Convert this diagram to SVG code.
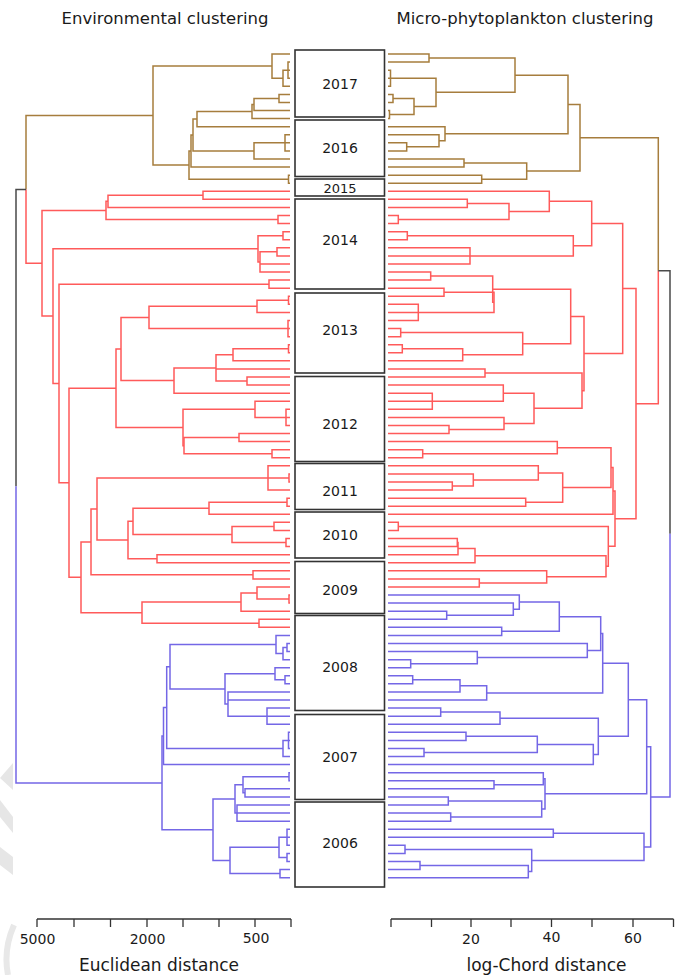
<svg xmlns="http://www.w3.org/2000/svg" width="680" height="975" viewBox="0 0 680 975">
<style>
text{font-family:"DejaVu Sans","Liberation Sans",sans-serif;fill:#1a1a1a}
.t{font-size:16.5px;text-anchor:middle}
.yr{font-size:14px;text-anchor:middle}
.ax{font-size:14px;text-anchor:middle}
.box{fill:#fff;stroke:#333;stroke-width:1.6}
#connectors path{fill:none;stroke-width:1.5;vector-effect:non-scaling-stroke}
.br path{stroke:#a67d3d}
.rd path{stroke:#ff5a5a}
.bl path{stroke:#7467e6}
.bk path{stroke:#4a4a4a}
.axis{fill:none;stroke:#333;stroke-width:1.3}
.wm{fill:#e6e6e6}
</style>
<g id="watermark">
<polygon class="wm" points="0,778 13,763 13,790"/>
<polygon class="wm" points="0,800 13,817 13,833 0,817"/>
<polygon class="wm" points="0,847 13,857 13,875 0,865"/>
<path d="M14,925 Q3,950 8,975" fill="none" stroke="#e8e8e8" stroke-width="6"/>
</g>
<text class="t" x="165" y="24">Environmental clustering</text>
<text class="t" x="525" y="24">Micro-phytoplankton clustering</text>
<g id="connectors" transform="translate(0,54) scale(1,8.075)">
<g class="br">
<path d="M290,1H288V3H290M288,2H290"/>
<path d="M288,2H283V4H290"/>
<path d="M290,0H272V3H283"/>
<path d="M290,5H279V6H290"/>
<path d="M279,5.5H254V7H290"/>
<path d="M254,6.25H252V8H290"/>
<path d="M252,7.125H197V9H290"/>
<path d="M290,10H285V12H290M285,11H290"/>
<path d="M285,11H254V13H290"/>
<path d="M197,8.0625H193V12H254"/>
<path d="M193,10.03H191V14H290"/>
<path d="M290,15H288.5V16H290"/>
<path d="M191,12.02H189V15.5H288.5"/>
<path d="M272,1.5H153V13.76H189"/>
<path d="M153,7.63H26V16.775"/>
<path d="M388,0H429V1H388"/>
<path d="M388,2H390.5V4H388M390.5,3H388"/>
<path d="M388,5H393V6H388"/>
<path d="M388,7H389.5V8H388"/>
<path d="M393,5.5H414V7.5H389.5"/>
<path d="M390.5,3H436V6.5H414"/>
<path d="M429,0.5H515V4.75H436"/>
<path d="M388,11H406.7V12H388"/>
<path d="M388,10H439V11.5H406.7"/>
<path d="M388,9H445V10.75H439"/>
<path d="M515,2.625H568V9.875H445"/>
<path d="M388,13H464V14H388"/>
<path d="M388,15H481.7V16H388"/>
<path d="M464,13.5H526.7V15.5H481.7"/>
<path d="M568,6.25H580V14.5H526.7"/>
<path d="M580,10.375H658.3V26.84"/>
</g>
<g class="rd">
<path d="M290,17H203V18H290"/>
<path d="M203,17.5H108V19H290"/>
<path d="M290,20H278V21H290"/>
<path d="M108,18.25H106V20.5H278"/>
<path d="M290,22H283V23H290"/>
<path d="M290,24H277V25H290"/>
<path d="M277,24.5H260V27H290M260,26H290"/>
<path d="M283,22.5H258V25.75H260"/>
<path d="M290,28H269V29H290"/>
<path d="M290,30H288.5V31H290"/>
<path d="M288.5,30.5H257V32H290"/>
<path d="M290,33H288V35H290M288,34H290"/>
<path d="M257,31.25H149V34H288"/>
<path d="M290,36H288.5V37H290"/>
<path d="M288.5,36.5H233V38H290"/>
<path d="M290,40H247V41H290"/>
<path d="M233,37.25H216V40.5H247M216,39H290"/>
<path d="M216,38.875H174V42H290"/>
<path d="M149,32.625H121V40.44H174"/>
<path d="M290,44H286V46H290M286,45H290"/>
<path d="M290,43H255V45H286"/>
<path d="M290,47H239V48H290"/>
<path d="M290,49H272V50H290"/>
<path d="M239,47.5H184V49.5H272"/>
<path d="M255,44H183V48.5H184"/>
<path d="M121,36.53H116V46.25H183"/>
<path d="M290,52H289V53H290"/>
<path d="M290,51H268V54H290M268,52.5H289"/>
<path d="M290,55H287V56H290"/>
<path d="M287,55.5H209V57H290"/>
<path d="M290,58H274V59H290"/>
<path d="M290,60H286V61H290"/>
<path d="M274,58.5H232V60.5H286"/>
<path d="M209,56.25H133V59.5H232"/>
<path d="M290,62H157V63H290"/>
<path d="M133,57.875H128V62.5H157"/>
<path d="M268,52.5H97V60.19H128"/>
<path d="M290,64H253V65H290"/>
<path d="M97,56.34H91V64.5H253"/>
<path d="M290,67H289V68H290"/>
<path d="M290,66H257V67.5H289"/>
<path d="M257,66.75H241V69H290"/>
<path d="M290,70H259V71H290"/>
<path d="M241,67.875H142V70.5H259"/>
<path d="M91,60.42H81V69.19H142"/>
<path d="M116,41.39H69V64.8H81"/>
<path d="M269,28.5H59V53.1H69"/>
<path d="M258,24.125H53V40.8H59"/>
<path d="M106,19.375H42V32.46H53"/>
<path d="M26,16.775V25.92H42"/>
<path d="M388,18H467.3V19H388"/>
<path d="M388,20H398.3V21H388"/>
<path d="M467.3,18.5H509V20.5H398.3"/>
<path d="M388,17H549.3V19.5H509"/>
<path d="M388,22H407.3V23H388"/>
<path d="M388,24H470V26H388M470,25H388"/>
<path d="M407.3,22.5H573.3V25H470"/>
<path d="M549.3,18.25H591.7V23.75H573.3"/>
<path d="M388,27H430.7V28H388"/>
<path d="M388,29H444V30H388"/>
<path d="M388,31H418.3V33H388M418.3,32H388"/>
<path d="M444,29.5H494V32H418.3"/>
<path d="M430.7,27.5H492.7V30.75H494"/>
<path d="M388,34H400.7V35H388"/>
<path d="M388,36H402.3V37H388"/>
<path d="M402.3,36.5H462.7V38H388"/>
<path d="M400.7,34.5H522.7V37.25H462.7"/>
<path d="M492.7,29.125H570.7V35.875H522.7"/>
<path d="M388,39H485V40H388"/>
<path d="M388,42H432.3V44H388M432.3,43H388"/>
<path d="M388,41H503.3V43H432.3"/>
<path d="M388,46H449V47H388"/>
<path d="M388,45H504V46.5H449"/>
<path d="M503.3,42H534V45.75H504"/>
<path d="M485,39.5H582V43.875H534"/>
<path d="M570.7,32.5H584V41.69H582"/>
<path d="M591.7,21H622.7V37.09H584"/>
<path d="M388,49H422.7V50H388"/>
<path d="M388,48H557.3V49.5H422.7"/>
<path d="M388,53H452.3V54H388"/>
<path d="M388,52H473.3V53.5H452.3"/>
<path d="M388,51H538.3V52.75H473.3"/>
<path d="M388,55H525.7V56H388"/>
<path d="M538.3,51.875H562.7V55.5H525.7"/>
<path d="M557.3,48.75H611V53.69H562.7"/>
<path d="M611,51.22H613V57H388"/>
<path d="M388,58H398.3V59H388"/>
<path d="M388,60H457.3V61H388"/>
<path d="M457.3,60.5H458V62H388"/>
<path d="M458,61.25H475V63H388"/>
<path d="M388,65H479.3V66H388"/>
<path d="M388,64H546.7V65.5H479.3"/>
<path d="M475,62.125H606V64.75H546.7"/>
<path d="M398.3,58.5H608.3V63.44H606"/>
<path d="M613,54.11H615V60.97H608.3"/>
<path d="M622.7,29.05H636V57.54H615"/>
<path d="M658.3,26.84V43.3H636"/>
</g>
<g class="bk">
<path d="M26,16.775H16V53.52"/>
<path d="M658.3,26.84H670V59.42"/>
</g>
<g class="bl">
<path d="M16,53.52V90.27H162"/>
<path d="M290,73H287V74H290"/>
<path d="M287,73.5H283V75H290"/>
<path d="M290,72H276V74.25H283"/>
<path d="M290,77H285V78H290"/>
<path d="M290,76H275V77.5H285"/>
<path d="M290,81H267V83H290M267,82H290"/>
<path d="M290,79H228V82H267M228,80H290"/>
<path d="M275,76.75H225V80.5H228"/>
<path d="M276,73.125H170V78.625H225"/>
<path d="M290,84H288.5V86H290M288.5,85H290"/>
<path d="M288.5,85H283V87H290"/>
<path d="M170,75.875H166.7V86H283"/>
<path d="M166.7,80.94H163.5V88H290"/>
<path d="M290,89H289V90H290"/>
<path d="M290,91H245V92H290"/>
<path d="M289,89.5H243V91.5H245"/>
<path d="M290,93H237V95H290M237,94H290"/>
<path d="M243,90.5H235V94H237"/>
<path d="M290,96H287V98H290M287,97H290"/>
<path d="M290,99H287V100H290"/>
<path d="M287,97H279V99.5H287"/>
<path d="M290,101H280V102H290"/>
<path d="M279,98.25H230V101.5H280"/>
<path d="M235,92.25H213V99.875H230"/>
<path d="M163.5,84.47H162V96.06H213"/>
<path d="M670,59.42V92H650.7"/>
<path d="M388,69H446.7V70H388"/>
<path d="M388,68H513.3V69.5H446.7"/>
<path d="M388,67H519.3V68.75H513.3"/>
<path d="M388,71H501.7V72H388"/>
<path d="M519.3,67.875H559.3V71.5H501.7"/>
<path d="M388,75H410.7V76H388"/>
<path d="M388,74H477.3V75.5H410.7"/>
<path d="M388,73H587.3V74.75H477.3"/>
<path d="M559.3,69.69H600.7V73.875H587.3"/>
<path d="M388,77H412.7V78H388"/>
<path d="M412.7,77.5H460V79H388"/>
<path d="M460,78.25H486.7V80H388"/>
<path d="M600.7,71.78H602.7V79.125H486.7"/>
<path d="M388,81H440.7V82H388"/>
<path d="M440.7,81.5H500V83H388"/>
<path d="M388,84H466V85H388"/>
<path d="M388,86H424V87H388"/>
<path d="M466,84.5H537.3V86.5H424"/>
<path d="M537.3,85.5H593.3V88H388"/>
<path d="M500,82.25H598.3V86.75H593.3"/>
<path d="M602.7,75.45H628.3V84.5H598.3"/>
<path d="M388,90H494V91H388"/>
<path d="M388,89H543.3V90.5H494"/>
<path d="M388,92H448.3V93H388"/>
<path d="M388,94H450.7V95H388"/>
<path d="M448.3,92.5H541.7V94.5H450.7"/>
<path d="M543.3,89.75H545V93.5H541.7"/>
<path d="M628.3,79.98H646.7V91.625H545"/>
<path d="M388,96H553.3V97H388"/>
<path d="M388,98H405V99H388"/>
<path d="M388,100H420V101H388"/>
<path d="M420,100.5H528.3V102H388"/>
<path d="M405,98.5H531.7V101.25H528.3"/>
<path d="M553.3,96.5H644V99.875H531.7"/>
<path d="M646.7,85.8H650.7V98.19H644"/>
</g>
</g>
<g id="y2017"><rect class="box" x="295" y="50" width="89.5" height="67"/><text class="yr" x="340" y="88.5">2017</text></g>
<g id="y2016"><rect class="box" x="295" y="120" width="89.5" height="56.5"/><text class="yr" x="340" y="153">2016</text></g>
<g id="y2015"><rect class="box" x="295" y="179" width="89.5" height="17"/><text class="yr" x="340" y="192.5" style="font-size:13px">2015</text></g>
<g id="y2014"><rect class="box" x="295" y="199" width="89.5" height="90"/><text class="yr" x="340" y="245">2014</text></g>
<g id="y2013"><rect class="box" x="295" y="293" width="89.5" height="80"/><text class="yr" x="340" y="335">2013</text></g>
<g id="y2012"><rect class="box" x="295" y="376.5" width="89.5" height="85"/><text class="yr" x="340" y="429">2012</text></g>
<g id="y2011"><rect class="box" x="295" y="463.5" width="89.5" height="46"/><text class="yr" x="340" y="496">2011</text></g>
<g id="y2010"><rect class="box" x="295" y="512" width="89.5" height="46"/><text class="yr" x="340" y="540">2010</text></g>
<g id="y2009"><rect class="box" x="295" y="561.5" width="89.5" height="52"/><text class="yr" x="340" y="595">2009</text></g>
<g id="y2008"><rect class="box" x="295" y="615.5" width="89.5" height="95"/><text class="yr" x="340" y="672">2008</text></g>
<g id="y2007"><rect class="box" x="295" y="714.5" width="89.5" height="85"/><text class="yr" x="340" y="762">2007</text></g>
<g id="y2006"><rect class="box" x="295" y="802" width="89.5" height="85"/><text class="yr" x="340" y="848">2006</text></g>
<g id="axis-left">
<path class="axis" d="M37,919H291M37,919V927M74,919V927M110.5,919V927M147,919V927M183,919V927M219,919V927M255,919V927M291,919V927"/>
<text class="ax" x="37.5" y="944">5000</text>
<text class="ax" x="147.5" y="944">2000</text>
<text class="ax" x="256" y="943">500</text>
<text class="ax" x="159" y="971" style="font-size:17px">Euclidean distance</text>
</g>
<g id="axis-right">
<path class="axis" d="M391,919H673.5M391,919V927M431.5,919V927M471,919V927M511,919V927M551.5,919V927M592,919V927M633,919V927M673.5,919V927"/>
<text class="ax" x="471" y="944">20</text>
<text class="ax" x="551.5" y="942">40</text>
<text class="ax" x="633" y="943">60</text>
<text class="ax" x="546.5" y="971" style="font-size:17px">log-Chord distance</text>
</g>
</svg>
